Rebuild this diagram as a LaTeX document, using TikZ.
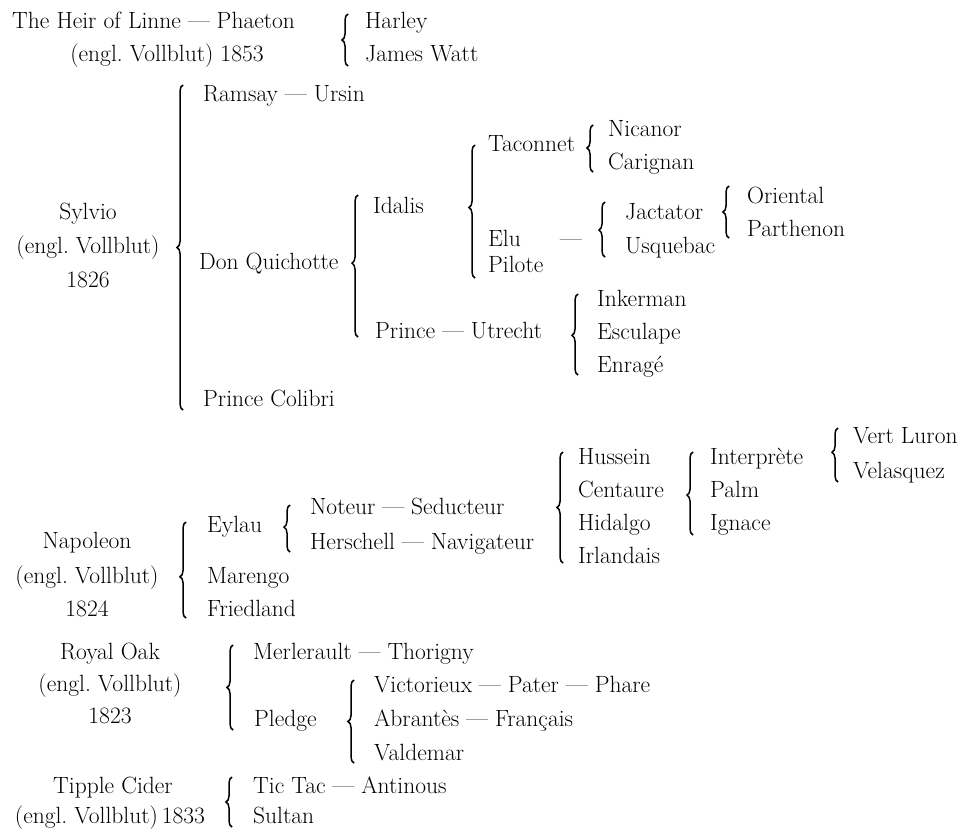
\documentclass[tikz,border=0pt]{standalone}
\usetikzlibrary{decorations.pathreplacing}
\newcommand\Dsh{---}
\begin{document}
\begin{tikzpicture}[x=1pt,y=-1pt,
  t/.style={anchor=base west, inner sep=0pt, font=\fontsize{23.5}{28}\selectfont},
  c/.style={t, anchor=base},
  br/.style={decorate, decoration={brace, amplitude=6pt, aspect=#1}, line width=1.5pt},
  br/.default=0.5]
\useasboundingbox (0,0) rectangle (969,830);
% Block 1
\node[t] (heir) at (12,28) {The Heir of Linne \Dsh\ Phaeton};
\node[c] (heirb) at (167,61) {(engl.\ Vollblut) 1853};
\node[t] (harley) at (365,28) {Harley};
\node[t] (watt) at (365,61) {James Watt};
\coordinate (b1a) at (348,66); \coordinate (b1b) at (348,14);
\draw[br] (b1a) -- (b1b);
% Sylvio
\node[c] (sylvio) at (88,219) {Sylvio};
\node[c] (sylviob) at (88,253) {(engl.\ Vollblut)};
\node[c] (sylvioc) at (88,287) {1826};
\coordinate (b2a) at (183,410); \coordinate (b2b) at (183,85);
\draw[br=0.5] (b2a) -- (b2b);
\node[t] (ramsay) at (203,101) {Ramsay \Dsh\ Ursin};
\node[t] (dq) at (199,269) {Don Quichotte};
\node[t] (colibri) at (203,406) {Prince Colibri};
\coordinate (b3a) at (358,337); \coordinate (b3b) at (358,195);
\draw[br=0.52] (b3a) -- (b3b);
\node[t] (idalis) at (373,213) {Idalis};
\node[t] (prince) at (375,338) {Prince \Dsh\ Utrecht};
\coordinate (b4a) at (475,278); \coordinate (b4b) at (475,145);
\draw[br=0.53] (b4a) -- (b4b);
\node[t] (taconnet) at (488,151) {Taconnet};
\node[t] (elu) at (488,246) {Elu};
\node[t] (pilote) at (488,272) {Pilote};
\node[t] (eludash) at (560,246) {\Dsh};
\coordinate (b5a) at (593,172); \coordinate (b5b) at (593,125);
\draw[br=0.51] (b5a) -- (b5b);
\node[t] (nicanor) at (608,136) {Nicanor};
\node[t] (carignan) at (608,169) {Carignan};
\coordinate (b6a) at (605,257); \coordinate (b6b) at (605,202);
\draw[br=0.49] (b6a) -- (b6b);
\node[t] (jactator) at (625,219) {Jactator};
\node[t] (usquebac) at (625,253) {Usquebac};
\coordinate (b7a) at (729,238); \coordinate (b7b) at (729,186);
\draw[br=0.5] (b7a) -- (b7b);
\node[t] (oriental) at (747,203) {Oriental};
\node[t] (parthenon) at (747,236) {Parthenon};
\coordinate (b8a) at (578,375); \coordinate (b8b) at (578,294);
\draw[br=0.49] (b8a) -- (b8b);
\node[t] (inkerman) at (597,306) {Inkerman};
\node[t] (esculape) at (597,339) {Esculape};
\node[t] (enrage) at (597,372) {Enrag\'e};
% Napoleon
\node[c] (napoleon) at (87,548) {Napoleon};
\node[c] (napoleonb) at (87,583) {(engl.\ Vollblut)};
\node[c] (napoleonc) at (87,616) {1824};
\coordinate (b9a) at (186,618); \coordinate (b9b) at (186,522);
\draw[br=0.43] (b9a) -- (b9b);
\node[t] (eylau) at (207,532) {Eylau};
\node[t] (marengo) at (207,583) {Marengo};
\node[t] (friedland) at (207,616) {Friedland};
\coordinate (b10a) at (290,552); \coordinate (b10b) at (290,505);
\draw[br=0.53] (b10a) -- (b10b);
\node[t] (noteur) at (310,514) {Noteur \Dsh\ Seducteur};
\node[t] (herschell) at (310,549) {Herschell \Dsh\ Navigateur};
\coordinate (b11a) at (563,563); \coordinate (b11b) at (563,452);
\draw[br=0.5] (b11a) -- (b11b);
\node[t] (hussein) at (578,464) {Hussein};
\node[t] (centaure) at (578,497) {Centaure};
\node[t] (hidalgo) at (578,530) {Hidalgo};
\node[t] (irlandais) at (578,563) {Irlandais};
\coordinate (b12a) at (693,535); \coordinate (b12b) at (693,452);
\draw[br=0.48] (b12a) -- (b12b);
\node[t] (interprete) at (710,464) {Interpr\`ete};
\node[t] (palm) at (710,497) {Palm};
\node[t] (ignace) at (710,530) {Ignace};
\coordinate (b13a) at (838,482); \coordinate (b13b) at (838,428);
\draw[br=0.55] (b13a) -- (b13b);
\node[t] (vert) at (853,443) {Vert Luron};
\node[t] (velasquez) at (853,478) {Velasquez};
% Royal Oak
\node[c] (royal) at (110,659) {Royal Oak};
\node[c] (royalb) at (110,691) {(engl.\ Vollblut)};
\node[c] (royalc) at (110,723) {1823};
\coordinate (b14a) at (233,730); \coordinate (b14b) at (233,645);
\draw[br=0.5] (b14a) -- (b14b);
\node[t] (merlerault) at (253,659) {Merlerault \Dsh\ Thorigny};
\node[t] (pledge) at (254,726) {Pledge};
\coordinate (b15a) at (354,763); \coordinate (b15b) at (354,680);
\draw[br=0.5] (b15a) -- (b15b);
\node[t] (victorieux) at (374,692) {Victorieux \Dsh\ Pater \Dsh\ Phare};
\node[t] (abrantes) at (374,726) {Abrant\`es \Dsh\ Fran\c{c}ais};
\node[t] (valdemar) at (374,760) {Valdemar};
% Tipple Cider
\node[c] (tipple) at (113,793) {Tipple Cider};
\node[c] (tippleb) at (110,823) {(engl.\ Vollblut)\,1833};
\coordinate (b16a) at (232,827); \coordinate (b16b) at (232,777);
\draw[br=0.5] (b16a) -- (b16b);
\node[t] (tictac) at (253,793) {Tic Tac \Dsh\ Antinous};
\node[t] (sultan) at (253,823) {Sultan};
\end{tikzpicture}
\end{document}
